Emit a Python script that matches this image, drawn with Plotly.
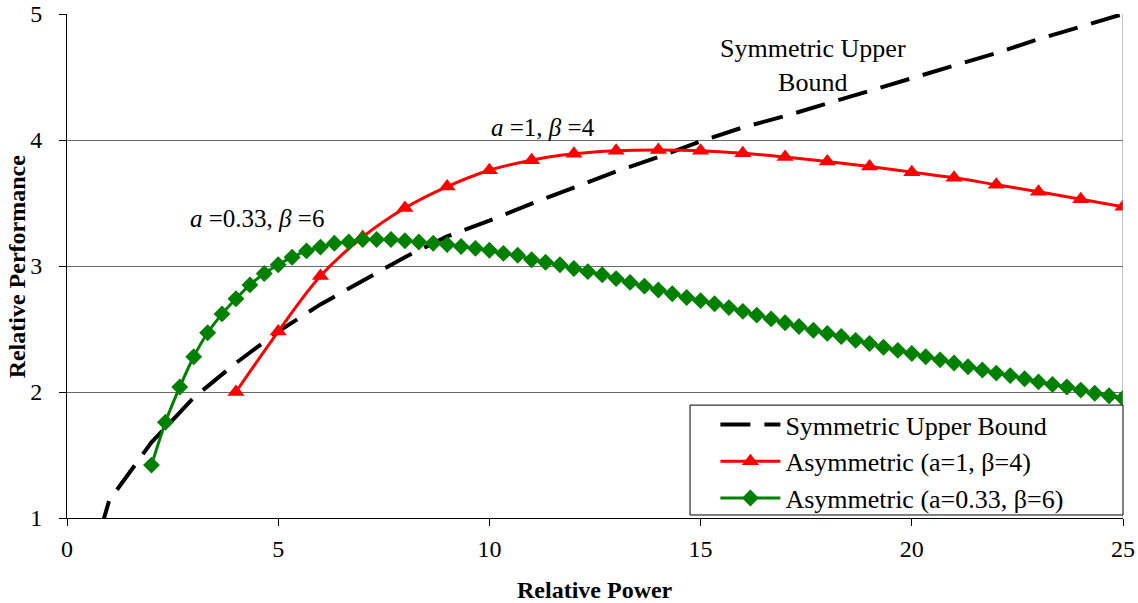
import plotly.graph_objects as go

# ---------------- data ----------------
sym_x = [0.5, 1, 2, 3, 4, 5, 6, 7, 8, 9, 10, 11, 12, 13, 14, 15, 16, 17, 18, 19, 20, 21, 22, 23, 24, 25]
sym_y = [0.57, 1.14, 1.60, 1.955, 2.23, 2.48, 2.695, 2.885, 3.07, 3.235, 3.36, 3.495, 3.625, 3.75, 3.865,
         3.99, 4.10, 4.19, 4.29, 4.39, 4.49, 4.59, 4.69, 4.80, 4.90, 5.00]

red_x = [4, 5, 6, 7, 8, 9, 10, 11, 12, 13, 14, 15, 16, 17, 18, 19, 20, 21, 22, 23, 24, 25]
red_y = [2.00, 2.48, 2.92, 3.23, 3.46, 3.63, 3.76, 3.84, 3.89, 3.915, 3.92, 3.915, 3.895, 3.865,
         3.83, 3.79, 3.745, 3.70, 3.645, 3.59, 3.53, 3.47]

green_x = [2.00, 2.33, 2.67, 3.00, 3.33, 3.67, 4.00, 4.33, 4.67, 5.00,
           5.33, 5.67, 6.00, 6.33, 6.67, 7.00, 7.33, 7.67, 8.00, 8.33,
           8.67, 9.00, 9.33, 9.67, 10.00, 10.33, 10.67, 11.00, 11.33, 11.67,
           12.00, 12.33, 12.67, 13.00, 13.33, 13.67, 14.00, 14.33, 14.67, 15.00,
           15.33, 15.67, 16.00, 16.33, 16.67, 17.00, 17.33, 17.67, 18.00, 18.33,
           18.67, 19.00, 19.33, 19.67, 20.00, 20.33, 20.67, 21.00, 21.33, 21.67,
           22.00, 22.33, 22.67, 23.00, 23.33, 23.67, 24.00, 24.33, 24.67, 25.00]
green_y = [1.42, 1.76, 2.04, 2.28, 2.47, 2.62, 2.74, 2.85, 2.94, 3.01,
           3.07, 3.12, 3.15, 3.18, 3.19, 3.21, 3.21, 3.21, 3.20, 3.19,
           3.18, 3.17, 3.155, 3.14, 3.125, 3.10, 3.085, 3.05, 3.03, 3.01,
           2.98, 2.955, 2.93, 2.90, 2.87, 2.84, 2.81, 2.78, 2.75, 2.725,
           2.70, 2.67, 2.64, 2.61, 2.58, 2.55, 2.52, 2.49, 2.465, 2.44,
           2.41, 2.385, 2.355, 2.33, 2.305, 2.28, 2.255, 2.23, 2.20, 2.175,
           2.15, 2.13, 2.105, 2.08, 2.06, 2.04, 2.015, 1.99, 1.97, 1.95]

x_ticks = [0, 5, 10, 15, 20, 25]
y_ticks = [1, 2, 3, 4, 5]

names = ["Symmetric Upper Bound", "Asymmetric (a=1, β=4)", "Asymmetric (a=0.33, β=6)"]

SERIF = "Liberation Serif"

fig = go.Figure()
fig.add_trace(go.Scatter(x=sym_x, y=sym_y, mode="lines", name=names[0],
                         line=dict(color="black", width=4, dash="30px,14px")))
fig.add_trace(go.Scatter(x=red_x, y=red_y, mode="lines+markers", name=names[1],
                         line=dict(color="#ff0000", width=3, shape="spline", smoothing=1.0),
                         marker=dict(symbol="triangle-up", size=15, color="#ff0000")))
fig.add_trace(go.Scatter(x=green_x, y=green_y, mode="lines+markers", name=names[2],
                         line=dict(color="#008000", width=3, shape="spline", smoothing=0.6),
                         marker=dict(symbol="diamond", size=13, color="#008000")))

fig.update_layout(
    width=1138, height=603,
    margin=dict(l=67, r=15, t=14, b=85, autoexpand=False),
    paper_bgcolor="white", plot_bgcolor="white",
    font=dict(family=SERIF, size=24, color="black"),
    showlegend=True,
    legend=dict(x=0.614, y=0.232, xanchor="left", yanchor="top",
                bgcolor="rgba(0,0,0,0)", borderwidth=0,
                font=dict(family=SERIF, size=26, color="black"),
                tracegroupgap=0, itemwidth=60),
    xaxis=dict(range=[0, 25], tickvals=x_ticks, showgrid=False, zeroline=False,
               showline=True, linecolor="black", linewidth=1,
               ticks="outside", ticklen=7, tickcolor="black",
               ticklabelstandoff=2, automargin=False,
               tickfont=dict(family=SERIF, size=24)),
    yaxis=dict(range=[1, 5], tickvals=y_ticks, showgrid=True, gridcolor="#6a6a6a", gridwidth=1,
               zeroline=False, showline=True, linecolor="black", linewidth=1,
               ticks="outside", ticklen=7, tickcolor="black",
               ticklabelstandoff=12, automargin=False,
               tickfont=dict(family=SERIF, size=24)),
    shapes=[
        dict(type="line", xref="x", yref="paper", x0=25, x1=25, y0=0, y1=1,
             line=dict(color="#8a8a8a", width=1)),
        dict(type="rect", xref="paper", yref="paper", x0=0.590, x1=1.0, y0=0.006, y1=0.224,
             fillcolor="white", line=dict(color="black", width=1), layer="above"),
    ],
    annotations=[
        dict(x=4.5, y=3.38, xref="x", yref="y", showarrow=False,
             text="<i>a</i> =0.33, <i>β</i> =6", font=dict(family=SERIF, size=25)),
        dict(x=11.27, y=4.10, xref="x", yref="y", showarrow=False,
             text="<i>a</i> =1, <i>β</i> =4", font=dict(family=SERIF, size=25)),
        dict(x=17.66, y=4.59, xref="x", yref="y", showarrow=False,
             text="Symmetric Upper<br>Bound", font=dict(family=SERIF, size=26)),
        dict(x=0.5, y=-0.143, xref="paper", yref="paper", showarrow=False,
             xanchor="center", yanchor="middle",
             text="<b>Relative Power</b>", font=dict(family=SERIF, size=24)),
        dict(x=-0.047, y=0.5, xref="paper", yref="paper", showarrow=False,
             xanchor="center", yanchor="middle", textangle=-90,
             text="<b>Relative Performance</b>", font=dict(family=SERIF, size=24)),
    ],
)

fig.write_html("out.html", config={"displayModeBar": False},
               post_script="document.body.style.margin='0';document.body.style.padding='0';")
